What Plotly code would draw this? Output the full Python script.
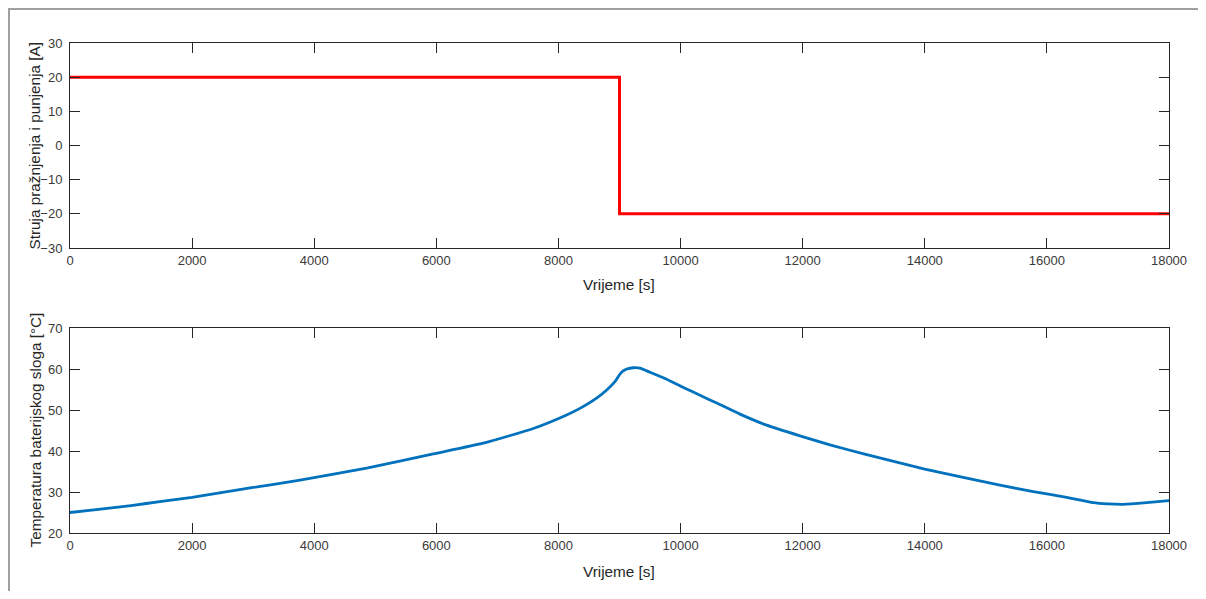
import plotly.graph_objects as go

# Current (charge/discharge)
t_cur = [0, 9000, 9000, 18000]
i_cur = [20, 20, -20, -20]

# Battery pack temperature
t_temp = [0, 500, 1000, 1500, 2000, 2500, 3000, 3767, 4859, 5950, 6769, 7588,
          8134, 8352, 8625, 8800, 8925, 9000, 9050, 9120, 9226, 9335, 9499,
          9772, 10045, 10318, 10591, 10973, 11410, 11955, 12447, 13000, 14000,
          15231, 15777, 16323, 16759, 17000, 17250, 17634, 18000]
temp = [25.0, 25.8, 26.7, 27.7, 28.7, 29.9, 31.1, 32.9, 35.8, 39.3, 41.9, 45.5,
        48.8, 50.4, 52.9, 55.0, 56.9, 58.6, 59.4, 60.0, 60.3, 60.2, 59.2,
        57.5, 55.5, 53.6, 51.7, 49.0, 46.3, 43.7, 41.5, 39.3, 35.6,
        31.7, 30.1, 28.7, 27.4, 27.1, 27.0, 27.4, 27.9]

x_ticks = [0, 2000, 4000, 6000, 8000, 10000, 12000, 14000, 16000, 18000]
x_tick_labels = ["0", "2000", "4000", "6000", "8000", "10000", "12000", "14000", "16000", "18000"]
y1_ticks = [-30, -20, -10, 0, 10, 20, 30]
y2_ticks = [20, 30, 40, 50, 60, 70]

x_title = "Vrijeme [s]"
y1_title = "Struja pražnjenja i punjenja [A]"
y2_title = "Temperatura baterijskog sloga [°C]"

# page has an 8px body margin; figure placed at (8, 8)
OFF = 8
W, H = 1190, 583
AX = "#262626"
FONT = "Liberation Sans, Arial, sans-serif"


def px(x):
    return (x - OFF) / W


def py(y):
    return 1 - (y - OFF) / H


fig = go.Figure()
fig.add_trace(go.Scatter(x=t_cur, y=i_cur, mode="lines",
                         line=dict(color="#FF0000", width=3),
                         xaxis="x", yaxis="y", showlegend=False))
fig.add_trace(go.Scatter(x=t_temp, y=temp, mode="lines",
                         line=dict(color="#0072BD", width=2.8, shape="spline", smoothing=0.5),
                         xaxis="x2", yaxis="y2", showlegend=False))

xd = [px(70), px(1169)]
d1 = [py(248), py(43)]
d2 = [py(533), py(328)]

tickfont = dict(size=13, color="#3a3a3a", family=FONT)
common_x = dict(range=[0, 18000], tickvals=x_ticks, ticktext=x_tick_labels,
                ticks="inside", ticklen=10, tickcolor=AX, showline=True,
                linecolor=AX, linewidth=1, mirror="ticks", showgrid=False,
                zeroline=False, tickfont=tickfont, automargin=False, domain=xd)
common_y = dict(ticks="inside", ticklen=10, tickcolor=AX, showline=True,
                linecolor=AX, linewidth=1, mirror="ticks", showgrid=False,
                zeroline=False, tickfont=tickfont, automargin=False,
                ticklabelstandoff=4)

tfont = dict(size=15.3, color="#262626", family=FONT)
annotations = [
    dict(text=x_title, x=(xd[0] + xd[1]) / 2, y=py(284), xref="paper", yref="paper",
         xanchor="center", yanchor="middle", showarrow=False, font=tfont),
    dict(text=x_title, x=(xd[0] + xd[1]) / 2, y=py(571), xref="paper", yref="paper",
         xanchor="center", yanchor="middle", showarrow=False, font=tfont),
    dict(text=y1_title, x=px(34), y=(d1[0] + d1[1]) / 2, xref="paper", yref="paper",
         xanchor="center", yanchor="middle", showarrow=False, textangle=-90, font=tfont),
    dict(text=y2_title, x=px(35), y=(d2[0] + d2[1]) / 2, xref="paper", yref="paper",
         xanchor="center", yanchor="middle", showarrow=False, textangle=-90, font=tfont),
]

fig.update_layout(
    width=W, height=H,
    margin=dict(l=0, r=0, t=0, b=0),
    paper_bgcolor="white", plot_bgcolor="white",
    font=dict(family=FONT, color="#262626"),
    xaxis=dict(**common_x, anchor="y"),
    yaxis=dict(**common_y, domain=d1, anchor="x", range=[-30, 30], tickvals=y1_ticks),
    xaxis2=dict(**common_x, anchor="y2"),
    yaxis2=dict(**common_y, domain=d2, anchor="x2", range=[20, 70], tickvals=y2_ticks),
    annotations=annotations,
    shapes=[
        dict(type="line", xref="paper", yref="paper", x0=1 / W, x1=1 / W,
             y0=0, y1=1, line=dict(color="#a0a0a0", width=2)),
        dict(type="line", xref="paper", yref="paper", x0=0, x1=1,
             y0=1 - 1 / H, y1=1 - 1 / H, line=dict(color="#a0a0a0", width=2)),
    ],
)

fig.write_html("out.html")
